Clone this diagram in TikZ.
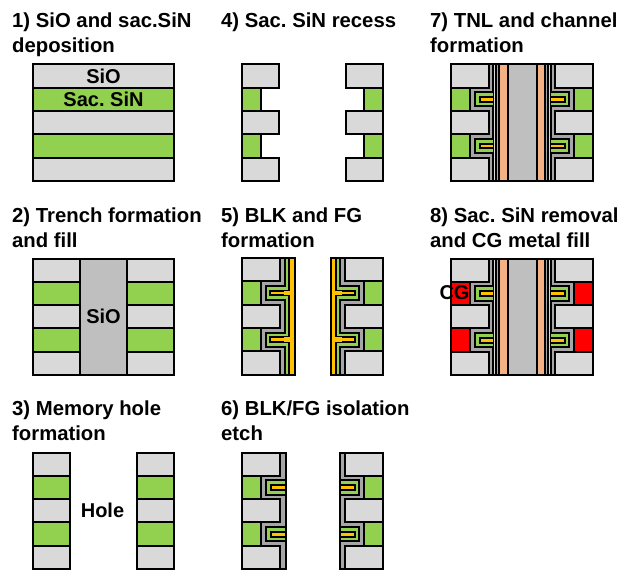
\documentclass[tikz,border=0pt]{standalone}
\usepackage{fontspec}
\setmainfont{Liberation Sans}
\definecolor{cSi}{HTML}{D9D9D9}
\definecolor{cGr}{HTML}{92D050}
\definecolor{cOr}{HTML}{FFC000}
\definecolor{cPe}{HTML}{F4B183}
\definecolor{cCe}{HTML}{BFBFBF}
\definecolor{cLi}{HTML}{A6A6A6}
\def\hh{23.3}
\tikzset{
  ol/.style={draw=black,line width=2pt,line join=miter},
  title/.style={font=\fontsize{20.3}{25}\selectfont\bfseries,anchor=north west,align=left,inner sep=0pt},
  lab/.style={font=\fontsize{20}{24}\selectfont\bfseries,inner sep=0pt}
}
\newcommand{\liner}[3]{%
  \path[ol,fill=#3] (#2,0) -- (38+#1,0) -- (38+#1,\hh+#1) -- (19+#1,\hh+#1) -- (19+#1,2*\hh-#1) -- (38+#1,2*\hh-#1)
   -- (38+#1,3*\hh+#1) -- (19+#1,3*\hh+#1) -- (19+#1,4*\hh-#1) -- (38+#1,4*\hh-#1) -- (38+#1,5*\hh) -- (#2,5*\hh) -- cycle;}
\newcommand{\blocks}[3]{%
  \foreach \r in {0,2,4}{\path[ol,fill=cSi] (0,\r*\hh) rectangle (#1,\r*\hh+\hh);}
  \foreach \r in {1,3}{\path[ol,fill=#3] (0,\r*\hh) rectangle (#2,\r*\hh+\hh);}}
\newcommand{\tabs}[1]{%
  \foreach \r in {1,3}{%
    \path[fill=cGr] (23.6,\r*\hh+4.6) rectangle (#1,\r*\hh+\hh-4.6);
    \draw[ol] (#1,\r*\hh+4.6) -- (23.6,\r*\hh+4.6) -- (23.6,\r*\hh+\hh-4.6) -- (#1,\r*\hh+\hh-4.6);
    \path[fill=black] (27.5,\r*\hh+8.2) rectangle (#1,\r*\hh+\hh-8.2);
    \path[fill=cOr] (29.5,\r*\hh+10.2) rectangle (#1,\r*\hh+\hh-10.2);}}
\newcommand{\halfFive}{%
  \blocks{38}{19}{cGr}\liner{0}{52.5}{cLi}\liner{4.6}{52.5}{cGr}\liner{9.2}{52.5}{cOr}
  \foreach \r in {1,3}{\path[fill=cOr] (41.5,\r*\hh+9.5) rectangle (48.5,\r*\hh+\hh-9.5);}}
\newcommand{\halfSix}{%
  \blocks{38}{19}{cGr}\liner{0}{43.5}{cLi}\tabs{42.5}}
\newcommand{\halfSeven}[1]{%
  \path[fill=cSi] (41.7,0) rectangle (45,5*\hh);
  \path[fill=cLi] (45,0) rectangle (48,5*\hh);
  \blocks{38}{19}{#1}\liner{0}{41.7}{cLi}\tabs{41.7}
  \draw[ol] (41.7,0) -- (41.7,\hh+4.6) (41.7,2*\hh-4.6) -- (41.7,3*\hh+4.6) (41.7,4*\hh-4.6) -- (41.7,5*\hh);
  \draw[ol] (45,0) -- (45,5*\hh);
  \path[ol,fill=cPe] (48,0) rectangle (56.5,5*\hh);}
\newcommand{\cellSeven}[1]{%
  \path[fill=cCe] (56.5,0) rectangle (85.5,5*\hh);
  \halfSeven{#1}
  \begin{scope}[shift={(142,0)},xscale=-1]\halfSeven{#1}\end{scope}
  \path[ol] (0,0) rectangle (142,5*\hh);}
\begin{document}
\frenchspacing
\begin{tikzpicture}[x=1pt,y=-1pt]
\useasboundingbox (0,0) rectangle (621,572);
\path[fill=white] (0,0) rectangle (621,572);
\node[title] (t1) at (12,13) {1) SiO and sac.SiN\\deposition};
\node[title] (t2) at (12,207.5) {2) Trench formation\\and fill};
\node[title] (t3) at (12,401) {3) Memory hole\\formation};
\node[title] (t4) at (221,13) {4) Sac. SiN recess};
\node[title] (t5) at (221,207.5) {5) BLK and FG\\formation};
\node[title] (t6) at (221,401) {6) BLK/FG isolation\\etch};
\node[title] (t7) at (430,13) {7) TNL and channel\\formation};
\node[title] (t8) at (430,207.5) {8) Sac. SiN removal\\and CG metal fill};
\begin{scope}[shift={(33,64.5)}]
\foreach \r in {0,2,4}{\path[ol,fill=cSi] (0,\r*\hh) rectangle (141,\r*\hh+\hh);}
\foreach \r in {1,3}{\path[ol,fill=cGr] (0,\r*\hh) rectangle (141,\r*\hh+\hh);}
\node[lab] (sio) at (70.5,11.6) {SiO};
\node[lab] (sin) at (70.5,34.9) {Sac. SiN};
\end{scope}
\begin{scope}[shift={(33,258.5)}]
\blocks{47}{47}{cGr}
\begin{scope}[shift={(141,0)},xscale=-1]\blocks{47}{47}{cGr}\end{scope}
\path[ol,fill=cCe] (47,0) rectangle (94,5*\hh);
\node[lab] (sio2) at (70.5,58) {SiO};
\end{scope}
\begin{scope}[shift={(33,452.5)}]
\blocks{37}{37}{cGr}
\begin{scope}[shift={(141,0)},xscale=-1]\blocks{37}{37}{cGr}\end{scope}
\node[lab] (hole) at (69.5,58) {Hole};
\end{scope}
\begin{scope}[shift={(242,64.5)}]
\blocks{37}{19}{cGr}
\begin{scope}[shift={(141,0)},xscale=-1]\blocks{37}{19}{cGr}\end{scope}
\end{scope}
\begin{scope}[shift={(242,258)}]
\halfFive
\begin{scope}[shift={(141,0)},xscale=-1]\halfFive\end{scope}
\end{scope}
\begin{scope}[shift={(242,452.5)}]
\halfSix
\begin{scope}[shift={(141,0)},xscale=-1]\halfSix\end{scope}
\end{scope}
\begin{scope}[shift={(451,64.5)}]
\cellSeven{cGr}
\end{scope}
\begin{scope}[shift={(451,258.5)}]
\cellSeven{red}
\node[lab] (cg) at (3.5,34.5) {CG};
\end{scope}
\end{tikzpicture}
\end{document}
